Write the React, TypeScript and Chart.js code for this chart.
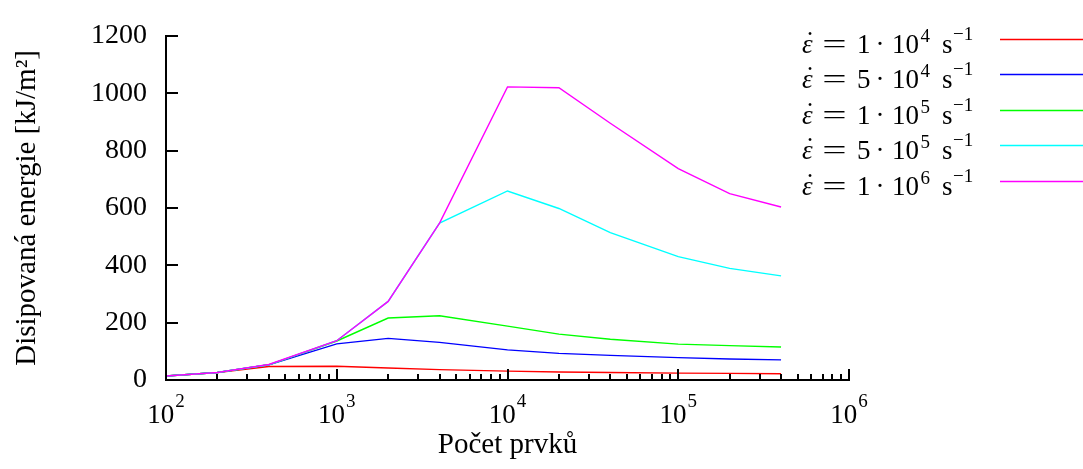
import React, { useEffect, useRef } from 'react';
import { Chart, registerables } from 'chart.js';

Chart.register(...registerables);

// ---- data ----
const elementCounts = [100, 200, 400, 1000, 2000, 4000, 10000, 20000, 40000, 100000, 200000, 400000];
const energyRate1e4 = [14, 26, 47, 48, 42, 36, 31, 28, 26, 24, 23, 22];
const energyRate5e4 = [14, 26, 53, 126, 145, 131, 105, 93, 86, 78, 73, 70];
const energyRate1e5 = [14, 26, 53, 136, 216, 224, 188, 160, 142, 125, 120, 115];
const energyRate5e5 = [14, 26, 53, 137, 274, 547, 659, 598, 514, 430, 389, 363];
const energyRate1e6 = [14, 26, 54, 137, 274, 547, 1022, 1019, 895, 737, 650, 603];

const seriesValues = [energyRate1e4, energyRate5e4, energyRate1e5, energyRate5e5, energyRate1e6];
const rateMantissas = ['1', '5', '1', '5', '1'];
const rateExponents = ['4', '4', '5', '5', '6'];
const seriesLabels = ['ε̇ = 1 · 10⁴ s⁻¹', 'ε̇ = 5 · 10⁴ s⁻¹', 'ε̇ = 1 · 10⁵ s⁻¹', 'ε̇ = 5 · 10⁵ s⁻¹', 'ε̇ = 1 · 10⁶ s⁻¹'];
const seriesColors = ['#ff0000', '#0000ff', '#00ff00', '#00ffff', '#ff00ff'];

const yTickValues = [0, 200, 400, 600, 800, 1000, 1200];
const xMajorTicks = [100, 1000, 10000, 100000, 1000000];
const xMajorExponents = ['2', '3', '4', '5', '6'];
const xMinorMultipliers = [2, 3, 4, 5, 6, 7, 8, 9];

const xTitle = 'Počet prvků';
const yTitle = 'Disipovaná energie [kJ/m²]';

const FONT = '"Liberation Serif", "Times New Roman", Times, serif';

const decorPlugin = {
  id: 'decor',
  afterDraw(chart: any) {
    const ctx: CanvasRenderingContext2D = chart.ctx;
    const xs = chart.scales.x;
    const ys = chart.scales.y;
    const area = chart.chartArea;
    ctx.save();
    ctx.strokeStyle = '#000';
    ctx.lineWidth = 2;
    const line = (x1: number, y1: number, x2: number, y2: number) => {
      ctx.beginPath();
      ctx.moveTo(x1, y1);
      ctx.lineTo(x2, y2);
      ctx.stroke();
    };
    // inward y ticks
    yTickValues.forEach((v) => {
      const py = Math.round(ys.getPixelForValue(v));
      line(area.left, py, area.left + 12, py);
    });
    // inward x ticks (major + minor)
    xMajorTicks.forEach((v, i) => {
      const px = Math.round(xs.getPixelForValue(v));
      line(px, area.bottom, px, area.bottom - 11);
      if (i < xMajorTicks.length - 1) {
        xMinorMultipliers.forEach((m) => {
          const pm = Math.round(xs.getPixelForValue(v * m));
          line(pm, area.bottom, pm, area.bottom - 6);
        });
      }
    });
    // x tick labels: 10^n
    ctx.fillStyle = '#000';
    ctx.textBaseline = 'alphabetic';
    ctx.textAlign = 'left';
    xMajorTicks.forEach((v, i) => {
      const px = xs.getPixelForValue(v);
      ctx.font = `27px ${FONT}`;
      const wBase = ctx.measureText('10').width;
      ctx.font = `19px ${FONT}`;
      const wExp = ctx.measureText(xMajorExponents[i]).width;
      const start = px - (wBase + wExp + 1) / 2;
      ctx.font = `27px ${FONT}`;
      ctx.fillText('10', start, area.bottom + 43);
      ctx.font = `19px ${FONT}`;
      ctx.fillText(xMajorExponents[i], start + wBase + 1, area.bottom + 27);
    });
    // legend
    chart.data.datasets.forEach((ds: any, i: number) => {
      const base = 53 + 35.4 * i;
      ctx.fillStyle = '#000';
      ctx.textAlign = 'left';
      ctx.font = `italic 27px ${FONT}`;
      ctx.fillText('ε', 802, base);
      ctx.font = `27px ${FONT}`;
      ctx.textAlign = 'center';
      ctx.fillText('˙', 810, base - 3);
      ctx.save();
      ctx.translate(834.5, base);
      ctx.scale(1.6, 1);
      ctx.fillText('=', 0, 0);
      ctx.restore();
      ctx.textAlign = 'left';
      ctx.fillText(rateMantissas[i], 857, base);
      ctx.textAlign = 'center';
      ctx.fillText('·', 880, base);
      ctx.textAlign = 'left';
      ctx.fillText('10', 892, base);
      ctx.fillText('s', 942, base);
      ctx.font = `19px ${FONT}`;
      ctx.fillText(rateExponents[i], 920.5, base - 11);
      ctx.fillText('−1', 953, base - 13);
      ctx.strokeStyle = ds.borderColor;
      ctx.lineWidth = 1.4;
      const ly = Math.round(base - 14) + 0.5;
      line(1000, ly, 1083, ly);
    });
    ctx.restore();
  },
};

export default function App() {
  const canvasRef = useRef<HTMLCanvasElement | null>(null);

  useEffect(() => {
    if (!canvasRef.current) return;
    Chart.defaults.font.family = FONT;
    Chart.defaults.color = '#000';
    const datasets = seriesValues.map((vals, i) => ({
      label: seriesLabels[i],
      data: elementCounts.map((n, j) => ({ x: n, y: vals[j] })),
      borderColor: seriesColors[i],
      backgroundColor: seriesColors[i],
      borderWidth: 1.4,
      pointRadius: 0,
      fill: false,
      tension: 0,
      order: seriesValues.length - i,
    }));
    const chart = new Chart(canvasRef.current, {
      type: 'line',
      data: { datasets },
      options: {
        animation: false,
        responsive: false,
        maintainAspectRatio: false,
        layout: { padding: { top: 22, right: 234, bottom: 0, left: 0 } },
        plugins: { legend: { display: false }, tooltip: { enabled: false } },
        scales: {
          x: {
            type: 'logarithmic',
            min: 100,
            max: 1000000,
            grid: { display: false, drawTicks: false },
            border: { display: true, color: '#000', width: 2 },
            ticks: { display: false },
            title: {
              display: true,
              text: xTitle,
              color: '#000',
              font: { size: 29, family: FONT },
              padding: { top: 0, bottom: 6 },
            },
            afterFit: (s: any) => {
              s.height = 89;
            },
          },
          y: {
            type: 'linear',
            min: 0,
            max: 1200,
            grid: { display: false, drawTicks: false },
            border: { display: true, color: '#000', width: 2 },
            afterBuildTicks: (s: any) => {
              s.ticks = yTickValues.map((v) => ({ value: v }));
            },
            ticks: {
              color: '#000',
              font: { size: 28, family: FONT },
              padding: 19,
              callback: (v: any) => String(v),
            },
            title: {
              display: true,
              text: yTitle,
              color: '#000',
              font: { size: 29, family: FONT },
              padding: { top: 10, bottom: 0 },
            },
            afterFit: (s: any) => {
              s.width = 166;
            },
          },
        },
      },
      plugins: [decorPlugin],
    } as any);
    return () => chart.destroy();
  }, []);

  return (
    <div style={{ position: 'absolute', left: 0, top: 0, width: 1083, height: 469, background: '#fff' }}>
      <canvas ref={canvasRef} width={1083} height={469} style={{ display: 'block' }} />
    </div>
  );
}
